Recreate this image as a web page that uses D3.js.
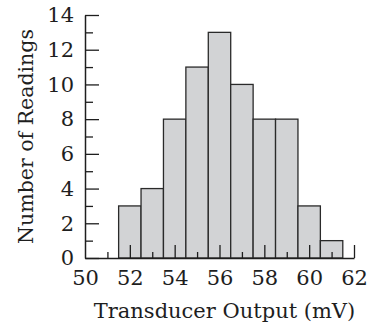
<!DOCTYPE html>
<html>
<head>
<meta charset="utf-8">
<script src="https://cdn.jsdelivr.net/npm/d3@7"></script>
<style>
  html, body { margin: 0; padding: 0; background: #fff; }
  svg { display: block; }
  text { font-family: "DejaVu Serif", serif; fill: #1e1e1e; }
</style>
</head>
<body>
<svg id="chart" width="374" height="327"></svg>
<script>
// Histogram of transducer readings: bin lower edges (mV) and counts
const binStarts = [51.5, 52.5, 53.5, 54.5, 55.5, 56.5, 57.5, 58.5, 59.5, 60.5];
const binWidth = 1;
const counts = [3, 4, 8, 11, 13, 10, 8, 8, 3, 1];

const xMajorTicks = [50, 52, 54, 56, 58, 60, 62];
const xMinorTicks = [51, 53, 55, 57, 59, 61];
const yMajorTicks = [0, 2, 4, 6, 8, 10, 12, 14];
const yMinorTicks = [1, 3, 5, 7, 9, 11, 13];

const xTitle = "Transducer Output (mV)";
const yTitle = "Number of Readings";

const svg = d3.select("#chart");
const plotLeft = 85, plotRight = 354, plotTop = 15, plotBottom = 258;

const x = d3.scaleLinear().domain([50, 62]).range([plotLeft, plotRight]);
const y = d3.scaleLinear().domain([0, 14]).range([plotBottom, plotTop]);

const bins = binStarts.map((s, i) => ({ x0: s, x1: s + binWidth, n: counts[i] }));

// bars
svg.append("g").selectAll("rect").data(bins).join("rect")
  .attr("x", d => x(d.x0))
  .attr("y", d => y(d.n))
  .attr("width", d => x(d.x1) - x(d.x0))
  .attr("height", d => y(0) - y(d.n))
  .attr("fill", "#d2d3d5")
  .attr("stroke", "#2a2a2a")
  .attr("stroke-width", 1.3);

function styleAxis(g) {
  g.selectAll("path.domain").attr("stroke", "#1e1e1e").attr("stroke-width", 1.5);
  g.selectAll(".tick line").attr("stroke", "#1e1e1e").attr("stroke-width", 1.3);
  g.selectAll(".tick text").style("font-family", "DejaVu Serif, serif").style("font-size", "21px").attr("fill", "#1e1e1e");
}

// y axis: ticks point into the plot
svg.append("g").attr("transform", `translate(${plotLeft},0)`)
  .call(d3.axisLeft(y).tickValues(yMinorTicks).tickSize(-8).tickSizeOuter(0).tickFormat(""))
  .call(g => g.select(".domain").remove())
  .call(styleAxis);
svg.append("g").attr("transform", `translate(${plotLeft},0)`)
  .call(d3.axisLeft(y).tickValues(yMajorTicks).tickSize(-14).tickSizeOuter(0).tickPadding(11).tickFormat(d3.format("d")))
  .call(styleAxis);

// x axis: ticks point upward
svg.append("g").attr("transform", `translate(0,${plotBottom})`)
  .call(d3.axisBottom(x).tickValues(xMinorTicks).tickSize(-6).tickSizeOuter(0).tickFormat(""))
  .call(g => g.select(".domain").remove())
  .call(styleAxis);
svg.append("g").attr("transform", `translate(0,${plotBottom})`)
  .call(d3.axisBottom(x).tickValues(xMajorTicks).tickSize(-13).tickSizeOuter(0).tickPadding(12).tickFormat(d3.format("d")))
  .call(g => g.select(".tick line").remove())
  .call(styleAxis);

// axis titles
svg.append("text")
  .attr("x", (plotLeft + plotRight) / 2 + 5)
  .attr("y", 318)
  .attr("text-anchor", "middle")
  .style("font-size", "21px")
  .text(xTitle);

svg.append("text")
  .attr("transform", `translate(33,${(plotTop + plotBottom) / 2}) rotate(-90)`)
  .attr("text-anchor", "middle")
  .style("font-size", "20.5px")
  .text(yTitle);
</script>
</body>
</html>
